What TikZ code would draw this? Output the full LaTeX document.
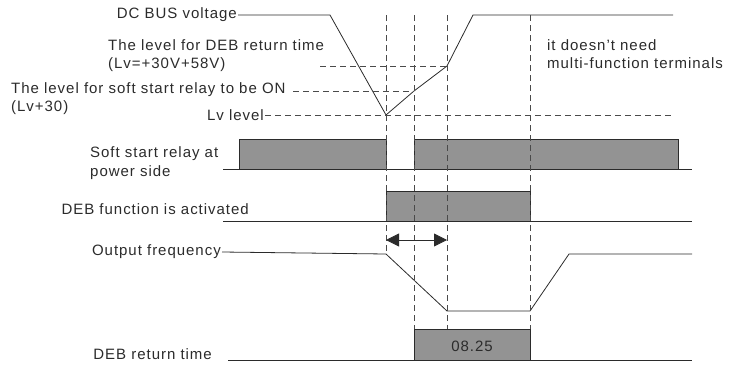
\documentclass[tikz,border=0pt]{standalone}
\usepackage{fontspec}
\setmainfont[LetterSpace=6.5]{Liberation Sans}
\usetikzlibrary{positioning, arrows.meta}
\definecolor{ink}{HTML}{2B2B2B}
\definecolor{pulsegray}{HTML}{939393}
\definecolor{guidegray}{HTML}{4A4A4A}

\begin{document}
\begin{tikzpicture}[x=1pt, y=-1pt,
    lbl/.style={font=\fontsize{15}{18}\selectfont, text=ink, inner sep=1pt, align=left},
    sig/.style={draw=ink, line width=0.8pt},
    guide/.style={draw=guidegray, line width=0.7pt, dash pattern=on 6pt off 4pt},
    pulse/.style={draw=ink, fill=pulsegray, line width=0.8pt},
    span/.style={{Triangle[length=13pt,width=13pt]}-{Triangle[length=13pt,width=13pt]}, draw=ink, line width=0.8pt}
  ]
    \useasboundingbox (0,0) rectangle (733,364);

    % time marks
    \coordinate (ta) at (386,15);
    \coordinate (tb) at (414,15);
    \coordinate (tc) at (447,15);
    \coordinate (td) at (530,15);

    % DC bus voltage
    \node[lbl, anchor=east] (bus) at (238,15) {DC BUS voltage};
    \node[lbl, anchor=west] (deb) at (107,45) {The level for DEB return time};
    \node[lbl, anchor=west] (debv) at (107,65) {(Lv=+30V+58V)};
    \node[lbl, anchor=west] (soft) at (10,90) {The level for soft start relay to be ON};
    \node[lbl, anchor=west] (softv) at (10,108) {(Lv+30)};
    \node[lbl, anchor=east] (lv) at (265,115) {Lv level};
    \node[lbl, anchor=west] (note) at (546,45) {it doesn't need};
    \node[lbl, anchor=west] (notev) at (546,63) {multi-function terminals};

    \coordinate (b0) at (330,15);
    \coordinate (bmin) at (386,115);
    \coordinate (bsoft) at (414,91);
    \coordinate (bdeb) at (447,66);
    \coordinate (btop) at (473,15);
    \coordinate (bend) at (673,15);

    \draw[sig] (bus.east) -- (b0) -- (bmin) -- (bsoft) -- (bdeb) -- (btop) -- (bend);
    \draw[guide] (320,66) -- (bdeb);
    \draw[guide] (293,91) -- (bsoft);
    \draw[guide] (lv.east) -- (673,115);

    % soft start relay
    \node[lbl, anchor=west] (relay) at (89,154) {Soft start relay at};
    \node[lbl, anchor=west] (relayv) at (89,173) {power side};
    \draw[sig] (223,169) -- (692,169);
    \draw[pulse] (239,169) rectangle (386,139);
    \draw[pulse] (414,169) rectangle (678,139);

    % DEB active
    \node[lbl, anchor=east] (active) at (250,209) {DEB function is activated};
    \draw[sig] (223,221) -- (692,221);
    \draw[pulse] (386,221) rectangle (530,191);

    % output frequency
    \node[lbl, anchor=east] (freq) at (222,252) {Output frequency};
    \draw[sig] (freq.east) -- (386,254) -- (447,311) -- (530,311) -- (569,254) -- (692,254);

    % DEB return time
    \node[lbl, anchor=east] (ret) at (213,354) {DEB return time};
    \draw[sig] (228,360) -- (692,360);
    \draw[pulse] (414,360) rectangle (530,329);
    \node[lbl] (val) at (472,346) {08.25};

    % guides
    \draw[guide] (ta) -- (386,254);
    \draw[guide] (tb) -- (414,329);
    \draw[guide] (tc) -- (447,329);
    \draw[guide] (td) -- (530,329);

    \coordinate (sa) at (386,240);
    \coordinate (sb) at (447,240);
    \draw[span] (sa) -- (sb);
  \end{tikzpicture}
\end{document}
